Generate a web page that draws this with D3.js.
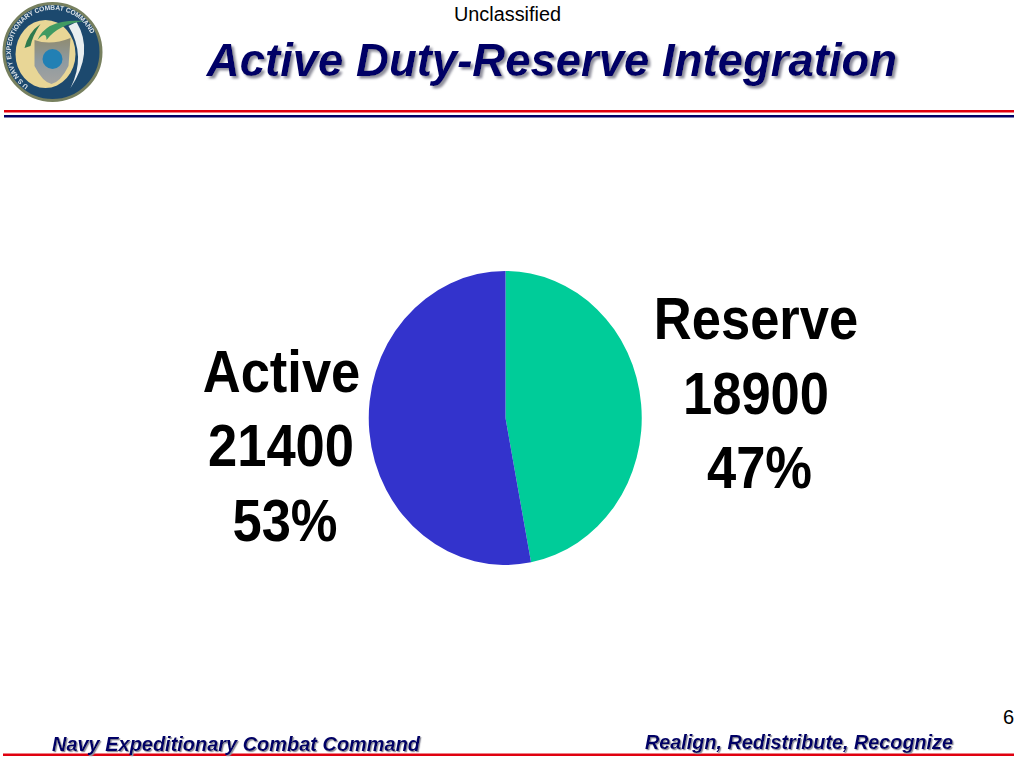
<!DOCTYPE html>
<html><head><meta charset="utf-8">
<script src="https://cdn.jsdelivr.net/npm/d3@7"></script>
<style>html,body{margin:0;padding:0;background:#fff;overflow:hidden}svg{display:block}text{font-family:"Liberation Sans",Arial,sans-serif}</style>
</head><body><svg id="c" width="1024" height="768"></svg>
<script>
const categories = ["Reserve","Active"];
const values = [18900,21400];
const percents = [47,53];
const colors = ["#00CC99","#3333CC"];
const title = "Active Duty-Reserve Integration";
const marking = "Unclassified";
const footerLeft = "Navy Expeditionary Combat Command";
const footerRight = "Realign, Redistribute, Recognize";
const pageNumber = "6";
const sealTop = "U S NAVY EXPEDITIONARY COMBAT COMMAND";

const svg = d3.select("#c");
const defs = svg.append("defs");
defs.append("filter").attr("id","soft2").append("feGaussianBlur").attr("stdDeviation",0.6);
const shadow=(id,d,b)=>defs.append("filter").attr("id",id).attr("x","-5%").attr("y","-20%").attr("width","110%").attr("height","150%")
  .append("feDropShadow").attr("dx",d).attr("dy",d).attr("stdDeviation",b).attr("flood-color","#8f8f9c");
shadow("titleShadow",2.5,0.9);
shadow("footShadow",1.2,0.6);
defs.append("path").attr("id","sealPath").attr("d","M-24,34 A42,42 0 1 1 36,22");
const shield = defs.append("linearGradient").attr("id","shield").attr("x1",0).attr("x2",0).attr("y1",0).attr("y2",1);
shield.append("stop").attr("offset","0").attr("stop-color","#8f8b70");
shield.append("stop").attr("offset","0.5").attr("stop-color","#8f9aa0");
shield.append("stop").attr("offset","1").attr("stop-color","#a3a3a0");

// seal
const seal = svg.append("g").attr("transform","translate(52.5,52)").attr("filter","url(#soft2)");
seal.append("circle").attr("r",48.5).attr("fill","#1f4a6e").attr("stroke","#77805f").attr("stroke-width",3);
seal.append("ellipse").attr("cx",-7).attr("cy",2).attr("rx",30).attr("ry",34).attr("fill","#e8d696");
seal.append("path").attr("d","M24,-30 Q42,0 18,36 Q34,4 16,-26 Z").attr("fill","#e8eef0");
seal.append("path").attr("d","M-18,-12 Q-2,-6 18,-14 L16,14 Q8,30 -1,32 Q-10,30 -18,14 Z").attr("fill","url(#shield)");
seal.append("circle").attr("cy",7).attr("r",10).attr("fill","#2380b4");
seal.append("path").attr("d","M-15,-12 Q-6,-34 32,-31 Q6,-28 -6,-12 Q-6,-22 -15,-12 Z").attr("fill","#3f9a62");
seal.append("path").attr("d","M-28,-4 Q-24,-20 -12,-28 Q-20,-16 -22,-6 Z").attr("fill","#2f7a4e");
seal.append("text").attr("font-size",6.6).attr("font-weight","bold").attr("fill","#dfe6ea")
  .append("textPath").attr("href","#sealPath").text(sealTop);

// marking + title
svg.append("text").attr("x",507.5).attr("y",21).attr("text-anchor","middle").attr("font-size",20).attr("textLength",107).attr("lengthAdjust","spacingAndGlyphs").attr("fill","#000").text(marking);
svg.append("text").attr("text-anchor","middle").attr("font-size",45.5).attr("font-weight","bold").attr("font-style","italic")
  .attr("x",552).attr("y",76).attr("fill","#000066").attr("filter","url(#titleShadow)").text(title);

// rules
const rule=(x,y,w,h,c)=>svg.append("rect").attr("x",x).attr("y",y).attr("width",w).attr("height",h).attr("fill",c);
rule(4,110,1010,2.5,"#e0000f");
rule(4,115,1010,2.5,"#000066");
rule(3,753.5,1011,2.5,"#e0000f");

// pie, drawn with d3.pie/d3.arc on a unit radius and stretched to the ellipse
const pie = d3.pie().sort(null).value(d=>d)(percents);
const arc = d3.arc().innerRadius(0).outerRadius(1);
const gp = svg.append("g").attr("transform","translate(505.5,418) scale(136.5,147)");
gp.selectAll("path").data(pie).join("path").attr("d",arc).attr("fill",(d,i)=>colors[i]);

// labels
const labelPos = [{xs:[756,756,759.5],ys:[339,414,488]},{xs:[281.5,281,285],ys:[392,466,541]}];
categories.forEach((c,i)=>{
  [c,String(values[i]),percents[i]+"%"].forEach((t,j)=>{
    svg.append("text").attr("transform",`translate(${labelPos[i].xs[j]},${labelPos[i].ys[j]}) scale(0.875,1)`)
      .attr("text-anchor","middle").attr("font-size",60).attr("font-weight","bold").attr("fill","#000").text(t);
  });
});

// footer
[[footerLeft,52,751,368],[footerRight,645,749,308]].forEach(([t,x,y,w])=>{
  svg.append("text").attr("font-size",20).attr("font-weight","bold").attr("font-style","italic")
    .attr("x",x).attr("y",y).attr("fill","#000066").attr("textLength",w).attr("lengthAdjust","spacingAndGlyphs").attr("filter","url(#footShadow)").text(t);
});
svg.append("text").attr("x",1014).attr("y",724).attr("text-anchor","end").attr("font-size",20).attr("fill","#000").text(pageNumber);
</script></body></html>
